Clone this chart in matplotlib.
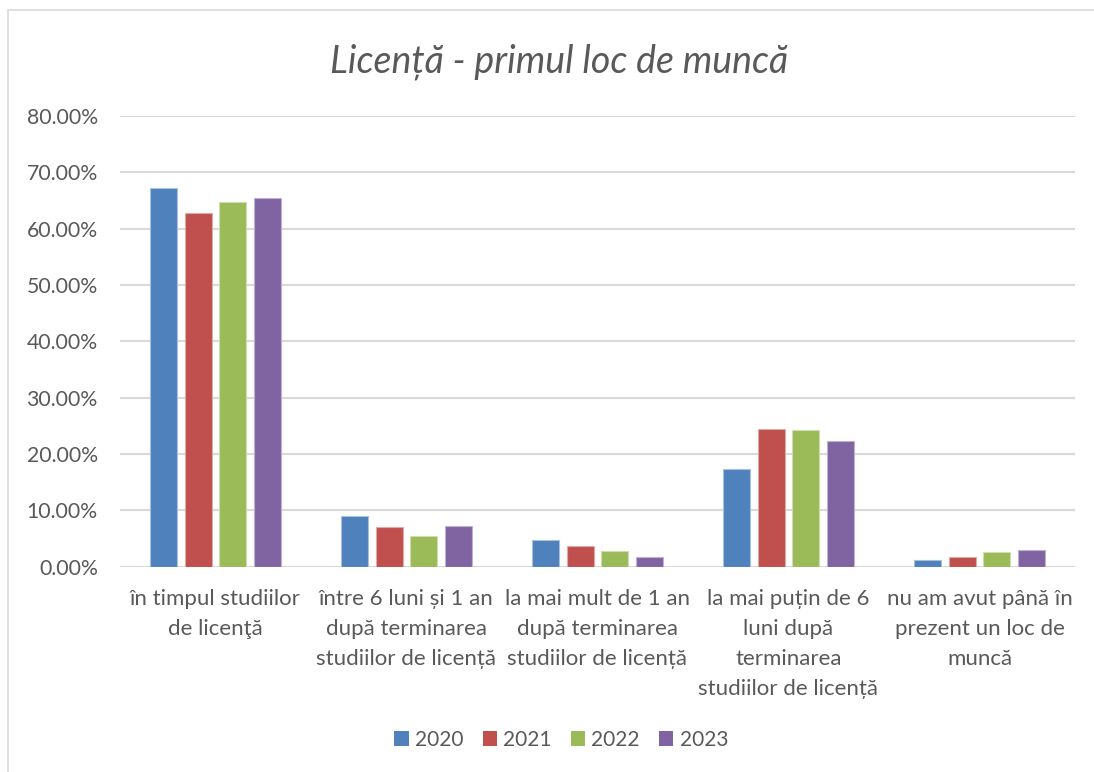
import numpy as np
import matplotlib.pyplot as plt
from matplotlib.patches import Rectangle, Patch
from matplotlib.ticker import PercentFormatter

categories = [
    'în timpul studiilor\nde licenţă',
    'între 6 luni și 1 an\ndupă terminarea\nstudiilor de licență',
    'la mai mult de 1 an\ndupă terminarea\nstudiilor de licență',
    'la mai puțin de 6\nluni după\nterminarea\nstudiilor de licență',
    'nu am avut până în\nprezent un loc de\nmuncă',
]
years = ['2020', '2021', '2022', '2023']
v2020 = [67.3, 9.0, 4.7, 17.3, 1.2]
v2021 = [62.7, 7.1, 3.6, 24.4, 1.7]
v2022 = [64.8, 5.4, 2.8, 24.2, 2.6]
v2023 = [65.5, 7.2, 1.7, 22.4, 2.9]
colors = ['#4F81BD', '#C0504D', '#9BBB59', '#8064A2']
edges = ['#A7C0DE', '#E0A8A6', '#CDDDAC', '#BFB1D0']

plt.rcParams['font.family'] = ['Lato', 'DejaVu Sans']
text_color = '#595959'

fig = plt.figure(figsize=(10.94, 7.72), dpi=100)
ax = fig.add_axes([0.1097, 0.2659, 0.8729, 0.5838])

x = np.arange(len(categories))
width = 0.141
step = 0.182
for i, vals in enumerate([v2020, v2021, v2022, v2023]):
    ax.bar(x + (i - 1.5) * step, np.array(vals) / 100, width,
           color=colors[i], edgecolor=edges[i], linewidth=0.8, zorder=3)

ax.set_xlim(-0.5, len(categories) - 0.5)
ax.set_ylim(0, 0.8)
ax.set_yticks(np.arange(0, 0.81, 0.1))
ax.yaxis.set_major_formatter(PercentFormatter(1.0, decimals=2))
ax.grid(axis='y', color='#D9D9D9', linewidth=1.5, zorder=0)
ax.set_axisbelow(True)
for s in ax.spines.values():
    s.set_visible(False)
ax.axhline(0, color='#D9D9D9', linewidth=1.5, zorder=1)

ax.set_xticks(x)
ax.set_xticklabels(categories, fontsize=16, color=text_color, linespacing=1.62,
                   va='top', ha='center')
ax.tick_params(axis='x', length=0, pad=16)
ax.tick_params(axis='y', length=0, pad=16, labelsize=15.3, labelcolor=text_color)

fig.text(0.511, 0.92, 'Licență - primul loc de muncă', fontsize=27,
         style='italic', weight='normal', color=text_color, ha='center', va='center')

handles = [Patch(facecolor=c, edgecolor='none') for c in colors]
fig.legend(handles, years, loc='center', bbox_to_anchor=(0.513, 0.042), ncol=4,
           frameon=False, fontsize=15, labelcolor=text_color,
           handlelength=0.7, handleheight=0.7, handletextpad=0.3, columnspacing=0.9)

fig.patches.append(Rectangle((8 / 1094, -0.1), 1.2, 1 - 10 / 772 + 0.1,
                             transform=fig.transFigure, fill=False,
                             edgecolor='#D9D9D9', linewidth=1.2))

fig.savefig('out.png', dpi=100)
